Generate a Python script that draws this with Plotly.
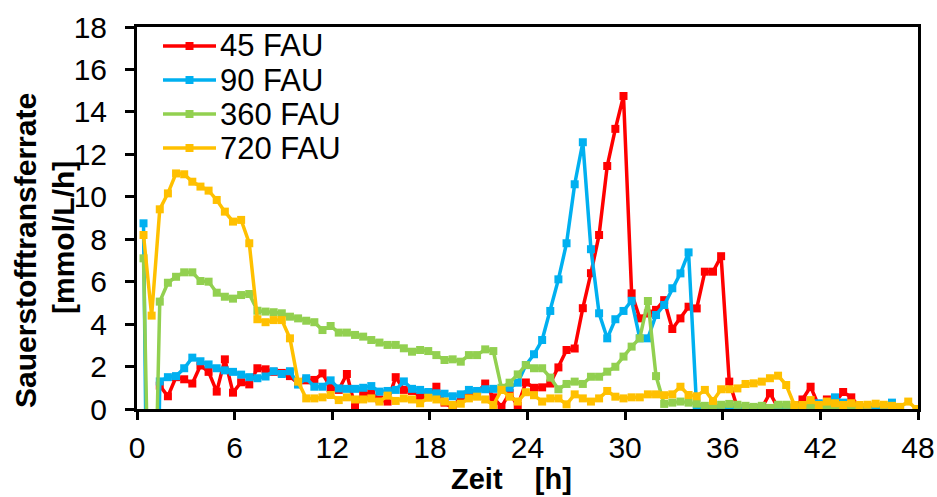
import plotly.graph_objects as go

# Zeit [h]
zeit = [0.4, 0.9, 1.4, 1.9, 2.4, 2.9, 3.4, 3.9, 4.4, 4.9,
        5.4, 5.9, 6.4, 6.9, 7.4, 7.9, 8.4, 8.9, 9.4, 9.9,
        10.4, 10.9, 11.4, 11.9, 12.4, 12.9, 13.4, 13.9, 14.4, 14.9,
        15.4, 15.9, 16.4, 16.9, 17.4, 17.9, 18.4, 18.9, 19.4, 19.9,
        20.4, 20.9, 21.4, 21.9, 22.4, 22.9, 23.4, 23.9, 24.4, 24.9,
        25.4, 25.9, 26.4, 26.9, 27.4, 27.9, 28.4, 28.9, 29.4, 29.9,
        30.4, 30.9, 31.4, 31.9, 32.4, 32.9, 33.4, 33.9, 34.4, 34.9,
        35.4, 35.9, 36.4, 36.9, 37.4, 37.9, 38.4, 38.9, 39.4, 39.9,
        40.4, 40.9, 41.4, 41.9, 42.4, 42.9, 43.4, 43.9, 44.4, 44.9,
        45.4, 45.9, 46.4, 46.9, 47.4, 47.9]

fau_45 = [None, None, 1.1, 0.6, 1.5, 1.4, 1.2, 2.05, 1.75, 0.82,
          2.34, 0.77, 1.26, 1.16, 1.92, 1.87, 1.75, 1.7, 1.55, 1.2,
          1.35, 1.37, 1.68, 1.0, 0.9, 1.65, 0.1, 0.7, 0.75, 0.45,
          0.35, 1.5, 0.9, 0.85, 0.6, 0.65, 1.05, 0.3, 0.05, 0.6,
          0.65, 0.75, 1.2, 0.55, 0.1, 0.75, 0.15, 1.25, 1.0, 1.02,
          1.2, 1.96, 2.78, 2.85, 4.75, 6.4, 8.2, 11.45, 13.2, 14.75,
          5.45, 4.27, 4.5, 4.67, 5.13, 3.77, 4.27, 4.82, 4.74, 6.47,
          6.47, 7.2, 1.29, 0.05, 0.05, 0.05, 0.05, 0.75, 0.05, 0.05,
          0.05, 0.45, 1.05, 0.15, 0.45, 0.3, 0.8, 0.55, 0.1, None,
          None, None, None, None, None, None]

fau_90 = [8.75, -25, 1.3, 1.5, 1.55, 1.92, 2.42, 2.25, 2.1, 1.92,
          1.82, 1.75, 1.62, 1.5, 1.45, 1.53, 1.78, 1.65, 1.78, 1.15,
          1.45, 1.05, 1.05, 1.35, 0.97, 0.95, 0.95, 1.0, 1.08, 0.82,
          0.85, 0.9, 1.3, 0.95, 0.9, 0.8, 0.74, 0.72, 0.6, 0.69,
          0.9, 0.85, 0.93, 0.95, 0.9, 1.0, 1.24, 2.07, 2.58, 3.25,
          4.62, 6.11, 7.81, 10.59, 12.57, 7.53, 4.51, 3.33, 4.23, 4.62,
          5.1, 3.33, 3.33, 4.43, 4.9, 5.69, 6.39, 7.38, 0.0, 0.02,
          0.02, 0.02, 0.02, 0.02, 0.02, 0.02, 0.02, 0.02, 0.02, 0.02,
          0.02, 0.02, 0.05, 0.27, 0.1, 0.55, 0.3, 0.1, 0.05, 0.05,
          0.05, 0.1, 0.3, 0.05, None, None]

fau_360 = [7.1, -12, 5.06, 5.95, 6.23, 6.44, 6.44, 6.03, 6.0, 5.48,
           5.29, 5.2, 5.37, 5.42, 4.63, 4.59, 4.56, 4.51, 4.35, 4.27,
           4.16, 4.09, 3.72, 3.91, 3.6, 3.6, 3.49, 3.41, 3.25, 3.13,
           3.02, 3.02, 2.86, 2.7, 2.78, 2.73, 2.54, 2.31, 2.34, 2.23,
           2.54, 2.54, 2.81, 2.73, 1.0, 1.24, 1.63, 2.07, 1.92, 1.92,
           1.48, 0.93, 1.18, 1.29, 1.18, 1.52, 1.52, 1.76, 1.99, 2.47,
           2.94, 3.33, 5.09, 1.55, 0.24, 0.3, 0.35, 0.3, 0.25, 0.15,
           0.1, 0.2, 0.24, 0.2, 0.15, 0.1, 0.15, 0.05, 0.2, 0.2,
           0.1, 0.15, 0.1, 0.05, 0.1, 0.1, 0.05, 0.1, 0.05, None,
           None, None, None, None, None, None]

fau_720 = [8.2, 4.4, 9.41, 10.16, 11.1, 11.06, 10.71, 10.48, 10.29, 9.85,
           9.3, 8.83, 8.91, 7.81, 4.23, 4.09, 4.19, 4.19, 3.33, 1.29,
           0.5, 0.5, 0.55, 0.66, 0.42, 0.55, 0.45, 0.45, 0.5, 0.35,
           0.63, 0.38, 0.5, 0.45, 0.27, 0.53, 0.45, 0.35, 0.19, 0.25,
           0.5, 0.58, 0.45, 0.19, 0.9, 0.58, 0.35, 0.79, 0.65, 0.35,
           0.5, 0.5, 0.22, 0.69, 0.5, 0.35, 0.5, 0.85, 0.58, 0.5,
           0.55, 0.55, 0.69, 0.69, 0.65, 0.69, 1.05, 0.66, 0.6, 0.9,
           0.38, 0.93, 0.93, 0.97, 1.18, 1.21, 1.29, 1.45, 1.57, 1.13,
           0.19, 0.19, 0.42, 0.19, 0.35, 0.27, 0.19, 0.27, 0.19, 0.2,
           0.25, 0.2, 0.15, 0.1, 0.35, 0.0]

series_names = ["45 FAU", "90 FAU", "360 FAU", "720 FAU"]
series_values = [fau_45, fau_90, fau_360, fau_720]
series_colors = ["#FF0000", "#00B0F0", "#92D050", "#FFC000"]

x_ticks = [0, 6, 12, 18, 24, 30, 36, 42, 48]
y_ticks = [0, 2, 4, 6, 8, 10, 12, 14, 16, 18]

FONT = "Liberation Sans, Arial, sans-serif"

fig = go.Figure()
for name, vals, col in zip(series_names, series_values, series_colors):
    fig.add_trace(go.Scatter(
        x=zeit, y=vals, name=name, mode="lines+markers",
        line=dict(color=col, width=3.5),
        marker=dict(symbol="square", size=8, color=col),
        connectgaps=False, showlegend=False,
    ))

fig.update_layout(
    width=937, height=497,
    margin=dict(l=137, r=19, t=27, b=88, autoexpand=False),
    paper_bgcolor="white", plot_bgcolor="white",
    font=dict(family=FONT, color="black", size=30),
    showlegend=False,
    xaxis=dict(
        range=[0, 48], tickvals=x_ticks, ticktext=[str(v) for v in x_ticks],
        showgrid=False, zeroline=False, automargin=False,
        showline=True, linecolor="black", linewidth=3, mirror=True,
        ticks="outside", ticklen=8, tickwidth=3, tickcolor="black",
        tickfont=dict(size=30, family=FONT), ticklabelstandoff=2,
    ),
    yaxis=dict(
        range=[0, 18], tickvals=y_ticks, ticktext=[str(v) for v in y_ticks],
        showgrid=False, zeroline=False, automargin=False,
        showline=True, linecolor="black", linewidth=3, mirror=True,
        ticks="outside", ticklen=9, tickwidth=3, tickcolor="black",
        tickfont=dict(size=30, family=FONT), ticklabelstandoff=12,
    ),
)

# legend drawn inside the plot area (upper left), built from the series lists
PL, PR, PT, PB = 137, 918, 27, 409


def px_x(p):
    return (p - PL) / (PR - PL)


def px_y(p):
    return (PB - p) / (PB - PT)


leg_rows = [46, 80, 114, 148]
for name, col, ry in zip(series_names, series_colors, leg_rows):
    fig.add_shape(type="line", xref="paper", yref="paper",
                  x0=px_x(163), x1=px_x(216), y0=px_y(ry), y1=px_y(ry),
                  line=dict(color=col, width=3.5))
    fig.add_shape(type="rect", xref="paper", yref="paper",
                  xsizemode="pixel", ysizemode="pixel",
                  xanchor=px_x(189.5), yanchor=px_y(ry),
                  x0=-4, x1=4, y0=-4, y1=4,
                  line=dict(width=0), fillcolor=col)
    fig.add_annotation(text=name, xref="paper", yref="paper",
                       x=px_x(218), y=px_y(ry), xanchor="left", yanchor="middle",
                       showarrow=False, font=dict(size=31, family=FONT))

fig.add_annotation(
    text="<b>Zeit&nbsp;&nbsp;&nbsp; [h]</b>", xref="paper", yref="paper",
    x=px_x(511), y=px_y(496), xanchor="center", yanchor="bottom",
    showarrow=False, font=dict(size=29, family=FONT), borderpad=0,
)
fig.add_annotation(
    text="<b>Sauerstofftransferrate</b>", xref="paper", yref="paper",
    x=px_x(26), y=px_y(251), xanchor="center", yanchor="middle", textangle=-90,
    showarrow=False, font=dict(size=30, family=FONT),
)
fig.add_annotation(
    text="<b>[mmol/L/h]</b>", xref="paper", yref="paper",
    x=px_x(64), y=px_y(238), xanchor="center", yanchor="middle", textangle=-90,
    showarrow=False, font=dict(size=30, family=FONT),
)

fig.write_html("out.html")
